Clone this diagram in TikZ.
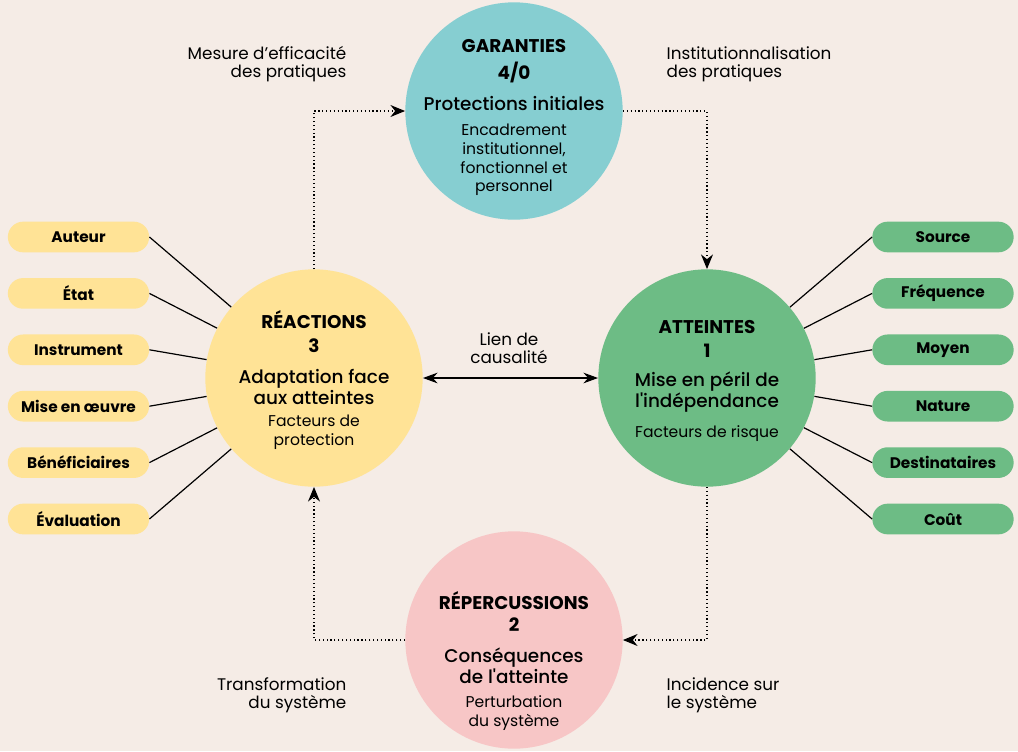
\documentclass[tikz,border=0pt]{standalone}
\usepackage{fontspec}
\setmainfont{Poppins}
\newfontfamily\moyen{Poppins Medium}
\usetikzlibrary{arrows.meta}

\definecolor{fond}{HTML}{F5ECE6}
\definecolor{bleu}{HTML}{86CED1}
\definecolor{vert}{HTML}{6DBC85}
\definecolor{jaune}{HTML}{FFE396}
\definecolor{rose}{HTML}{F7C6C6}

\tikzset{
  bulle/.style={circle,inner sep=0pt,minimum size=163pt},
  pastille/.style={rectangle,rounded corners=11.5pt,minimum width=106pt,
    minimum height=23pt,inner sep=0pt,font=\fontsize{11.5}{12}\selectfont\bfseries},
  titre/.style={font=\fontsize{13.8}{14}\selectfont\bfseries},
  sous/.style={align=center,font=\fontsize{13.8}{13.8}\selectfont\moyen},
  detail/.style={align=center,font=\fontsize{11.7}{13.9}\selectfont},
  note/.style={font=\fontsize{12.6}{13.5}\selectfont},
  rayon/.style={draw=black,line width=0.9pt},
  pointille/.style={draw=black,line width=0.9pt,dotted,-{Stealth[length=11pt,width=9pt]}},
  causal/.style={draw=black,line width=0.9pt,{Stealth[length=11pt,width=8pt]}-{Stealth[length=11pt,width=8pt]}}
}

\begin{document}
\begin{tikzpicture}[x=0.75pt,y=-0.75pt]
  \fill[fond] (0,0) rectangle (1018,751);
  \useasboundingbox (0,0) rectangle (1018,751);

  % cercles
  \node[bulle,fill=bleu] (gar) at (514,111) {};
  \node[bulle,fill=vert] (att) at (707,378) {};
  \node[bulle,fill=jaune] (rea) at (314,378) {};
  \node[bulle,fill=rose] (rep) at (514,640) {};

  % textes des cercles
  \node[titre] (gar-t) at (514,46) {GARANTIES};
  \node[titre] (gar-n) at (514,72) {4/0};
  \node[sous] (gar-s) at (514,103) {Protections initiales};
  \node[detail] (gar-d) at (514,160) {Encadrement\\institutionnel,\\fonctionnel et\\personnel};

  \node[titre] (att-t) at (707,327) {ATTEINTES};
  \node[titre] (att-n) at (707,351) {1};
  \node[sous] (att-s) at (707,392) {Mise en péril de\\l'indépendance};
  \node[detail] (att-d) at (707,434) {Facteurs de risque};

  \node[titre] (rea-t) at (314,320) {RÉACTIONS};
  \node[titre] (rea-n) at (314,346) {3};
  \node[sous] (rea-s) at (314,387) {Adaptation face\\aux atteintes};
  \node[detail] (rea-d) at (314,432) {Facteurs de\\protection};

  \node[titre] (rep-t) at (514,601) {RÉPERCUSSIONS};
  \node[titre] (rep-n) at (514,625) {2};
  \node[sous] (rep-s) at (514,666) {Conséquences\\de l'atteinte};
  \node[detail] (rep-d) at (514,713) {Perturbation\\du système};

  % pastilles
  \foreach \nom [count=\i] in {Auteur,État,Instrument,Mise en œuvre,Bénéficiaires,Évaluation}{
    \node[pastille,fill=jaune] (g\i) at (78.5,{237+56.4*(\i-1)}) {\nom};
    \draw[rayon] (g\i.east) -- (rea);
  }
  \foreach \nom [count=\i] in {Source,Fréquence,Moyen,Nature,Destinataires,Coût}{
    \node[pastille,fill=vert] (d\i) at (943,{237+56.4*(\i-1)}) {\nom};
    \draw[rayon] (d\i.west) -- (att);
  }

  % fleches
  \draw[causal] (rea) -- (att);
  \node[note,align=center] (lien) at (509,348) {Lien de\\causalité};

  \draw[pointille] (rea.north) |- (gar.west);
  \draw[pointille] (gar.east) -| (att.north);
  \draw[pointille] (att.south) |- (rep.east);
  \draw[pointille] (rep.west) -| (rea.south);

  \node[note,align=right,anchor=east] (mesure) at (351,64) {Mesure d’efficacité\\des pratiques};
  \node[note,align=left,anchor=west] (instit) at (662,64) {Institutionnalisation\\des pratiques};
  \node[note,align=right,anchor=east] (transf) at (351,695) {Transformation\\du système};
  \node[note,align=left,anchor=west] (incid) at (662,695) {Incidence sur\\le système};
\end{tikzpicture}
\end{document}
